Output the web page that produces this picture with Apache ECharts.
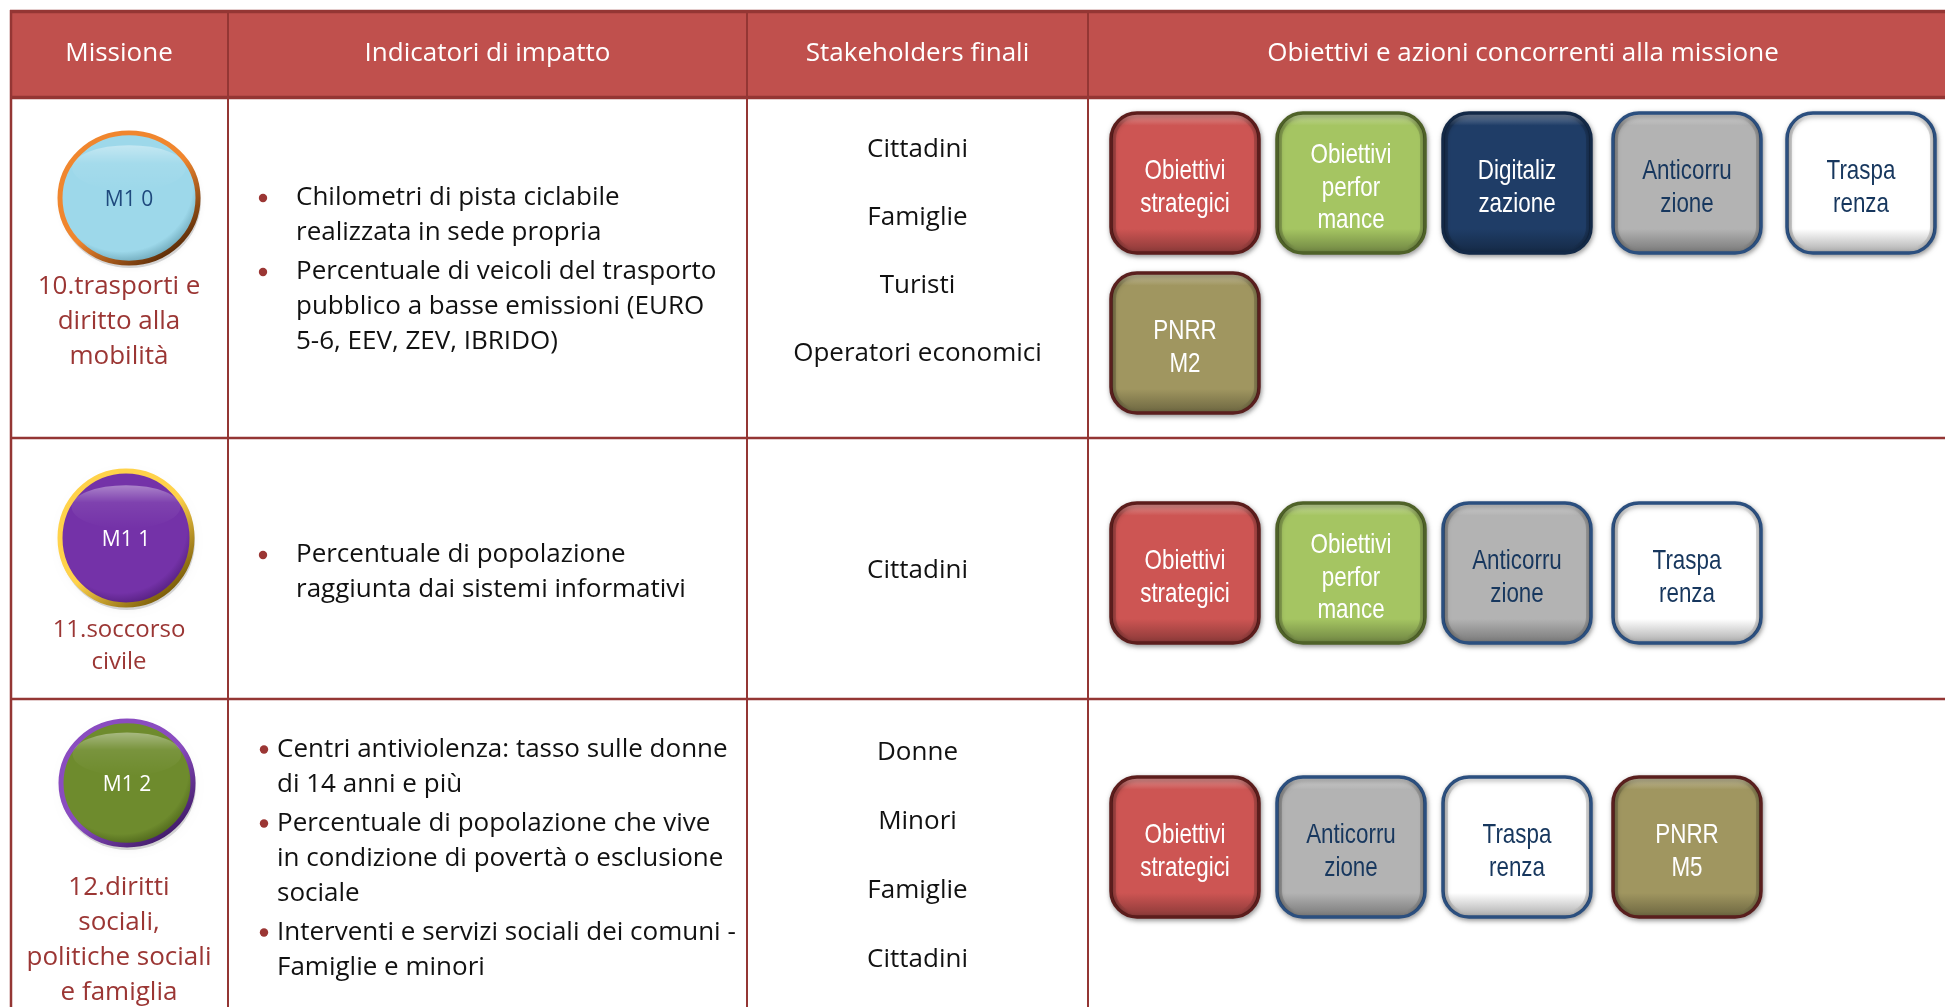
<!DOCTYPE html>
<html><head><meta charset="utf-8">
<script src="https://cdn.jsdelivr.net/npm/echarts@6/dist/echarts.min.js"></script>
<style>html,body{margin:0;padding:0;background:#fff}#c{width:1945px;height:1007px}</style>
</head><body><div id="c"></div>
<script>
// ---------------- content ----------------
const headers = ['Missione', 'Indicatori di impatto', 'Stakeholders finali', 'Obiettivi e azioni concorrenti alla missione'];
const missionCodes = ['M1 0', 'M1 1', 'M1 2'];
const missionNames = [
  ['10.trasporti e', 'diritto alla', 'mobilità'],
  ['11.soccorso', 'civile'],
  ['12.diritti', 'sociali,', 'politiche sociali', 'e famiglia']
];
const indicators = [
  [['Chilometri di pista ciclabile', 'realizzata in sede propria'],
   ['Percentuale di veicoli del trasporto', 'pubblico a basse emissioni (EURO', '5-6, EEV, ZEV, IBRIDO)']],
  [['Percentuale di popolazione', 'raggiunta dai sistemi informativi']],
  [['Centri antiviolenza: tasso sulle donne', 'di 14 anni e più'],
   ['Percentuale di popolazione che vive', 'in condizione di povertà o esclusione', 'sociale'],
   ['Interventi e servizi sociali dei comuni -', 'Famiglie e minori']]
];
const stakeholders = [
  ['Cittadini', 'Famiglie', 'Turisti', 'Operatori economici'],
  ['Cittadini'],
  ['Donne', 'Minori', 'Famiglie', 'Cittadini']
];
const actions = [
  ['Obiettivi\nstrategici', 'Obiettivi\nperfor\nmance', 'Digitaliz\nzazione', 'Anticorru\nzione', 'Traspa\nrenza', 'PNRR\nM2'],
  ['Obiettivi\nstrategici', 'Obiettivi\nperfor\nmance', 'Anticorru\nzione', 'Traspa\nrenza'],
  ['Obiettivi\nstrategici', 'Anticorru\nzione', 'Traspa\nrenza', 'PNRR\nM5']
];

// ---------------- layout & styles ----------------
const FONT = '"Open Sans", "Noto Sans", sans-serif';
const BOXFONT = '"Liberation Sans", Arial, sans-serif';
const LINE = '#943634';
const HEAD_BG = '#C0504D';
const NAME_COLOR = '#9B3634';
const layout = {
  colEdges: [10, 228, 747, 1088, 1958],
  rowEdges: [10, 98, 438, 699, 1018],
  circle: [{cx: 129, cyOff: 100, rx: 71, ry: 67}, {cx: 126, cyOff: 100, rx: 68, ry: 69}, {cx: 127, cyOff: 84, rx: 68, ry: 64}],
  nameTop: [189, 192, 189], nameLH: [35, 32, 35], nameSize: [26, 24, 26],
  bulletX: [263, 263, 264], textX: [296, 296, 277], indLH: 35, indGap: 4, indOff: [2, 4, 0],
  stakeLH: [68, 68, 69], stakeOff: [-16, 2, -2],
  boxTop: [113, 503, 777], boxSlotX: [1111, 1277, 1443, 1613, 1787], boxW: 148, boxH: 140, boxRowPitch: 160, perLine: 5
};
const circleStyles = [
  {fill: '#9DD8EA', dark: '#5E97A8', ring1: '#F0862E', ring2: '#4A2203', text: '#1F497D'},
  {fill: '#7432A8', dark: '#4B1A72', ring1: '#FFD24A', ring2: '#6A4E00', text: '#FFFFFF'},
  {fill: '#6E8B2D', dark: '#445A16', ring1: '#8A4CC0', ring2: '#3A1660', text: '#FFFFFF'}
];
const boxStyles = {
  strat: {fill: '#CD5553', stroke: '#5C1D1C', text: '#FFFFFF'},
  perf: {fill: '#A5C562', stroke: '#4F6228', text: '#FFFFFF'},
  dig: {fill: '#1F3D67', stroke: '#132947', text: '#FFFFFF'},
  anti: {fill: '#B3B3B3', stroke: '#2B4F7F', text: '#17375E'},
  trasp: {fill: '#FFFFFF', stroke: '#2B4F7F', text: '#17375E'},
  pnrr: {fill: '#A09660', stroke: '#5A1F1E', text: '#FFFFFF'}
};
function boxKind(label) {
  if (label.indexOf('strategici') >= 0) return 'strat';
  if (label.indexOf('perfor') >= 0) return 'perf';
  if (label.indexOf('Digit') === 0) return 'dig';
  if (label.indexOf('Anti') === 0) return 'anti';
  if (label.indexOf('Trasp') === 0) return 'trasp';
  return 'pnrr';
}
function mix(hex, target, t) {
  const a = parseInt(hex.slice(1), 16), b = parseInt(target.slice(1), 16);
  const r = Math.round(((a >> 16) & 255) * (1 - t) + ((b >> 16) & 255) * t);
  const g = Math.round(((a >> 8) & 255) * (1 - t) + ((b >> 8) & 255) * t);
  const bl = Math.round((a & 255) * (1 - t) + (b & 255) * t);
  return 'rgb(' + r + ',' + g + ',' + bl + ')';
}

// ---------------- helpers using axis scales ----------------
function X(api, v) { return api.coord([v, 0])[0]; }
function Y(api, v) { return api.coord([0, v])[1]; }
function W(api, v) { return api.size([v, 0])[0]; }
function H(api, v) { return api.size([0, v])[1]; }
function txt(api, x, y, text, size, color, family, align, extra) {
  const el = {type: 'text', x: X(api, x), y: Y(api, y), style: {text: text, x: 0, y: 0, fill: color,
    fontSize: size, fontFamily: family, align: align || 'center', verticalAlign: 'middle'}};
  if (extra) Object.assign(el, extra);
  return el;
}

function renderHeader(params, api) {
  const i = params.dataIndex, e = layout.colEdges, r = layout.rowEdges;
  const x0 = X(api, e[i]), x1 = X(api, e[i + 1]), y0 = Y(api, r[0]), y1 = Y(api, r[1]);
  return {type: 'group', children: [
    {type: 'rect', shape: {x: x0, y: y0, width: x1 - x0, height: y1 - y0}, style: {fill: HEAD_BG}},
    txt(api, (e[i] + e[i + 1]) / 2, (r[0] + r[1]) / 2, headers[i], 26, '#FFFFFF', FONT)
  ]};
}
const lineItems = [];
layout.colEdges.forEach((v, i) => { if (i < layout.colEdges.length - 1) lineItems.push(['v', i]); });
layout.rowEdges.forEach((v, i) => { if (i < layout.rowEdges.length - 1) lineItems.push(['h', i]); });
function renderLine(params, api) {
  const it = lineItems[params.dataIndex], e = layout.colEdges, r = layout.rowEdges;
  if (it[0] === 'v') {
    const xv = X(api, e[it[1]]) + (it[1] === 0 ? 1 : 0);
    return {type: 'line', shape: {x1: xv, y1: Y(api, r[0]), x2: xv, y2: Y(api, r[r.length - 1])},
      style: {stroke: LINE, lineWidth: it[1] === 0 ? 2.5 : 2}};
  }
  const k = it[1];
  const yv = Y(api, r[k]) + (k === 0 ? 1.5 : (k === 1 ? -0.5 : 0));
  return {type: 'line', shape: {x1: X(api, e[0]), y1: yv, x2: X(api, e[e.length - 1]), y2: yv},
    style: {stroke: LINE, lineWidth: (k <= 1) ? 3.5 : 2.5}};
}
function renderMission(params, api) {
  const i = params.dataIndex, top = layout.rowEdges[i + 1], c = layout.circle[i], s = circleStyles[i];
  const cx = X(api, c.cx), cy = Y(api, top + c.cyOff), rx = W(api, c.rx), ry = H(api, c.ry);
  const children = [
    {type: 'circle', x: cx + 1, y: cy + 3, scaleY: ry / rx, shape: {cx: 0, cy: 0, r: rx},
      style: {fill: 'rgba(0,0,0,0.15)', shadowBlur: 6, shadowColor: 'rgba(0,0,0,0.3)'}},
    {type: 'circle', x: cx, y: cy, scaleY: ry / rx, shape: {cx: 0, cy: 0, r: rx - 2},
      style: {
        fill: {type: 'radial', x: 0.45, y: 0.4, r: 0.62, colorStops: [
          {offset: 0, color: s.fill}, {offset: 0.8, color: s.fill}, {offset: 1, color: s.dark}]},
        stroke: {type: 'linear', x: 0.15, y: 0.1, x2: 0.85, y2: 0.95, colorStops: [
          {offset: 0, color: s.ring1}, {offset: 0.5, color: s.ring1}, {offset: 1, color: s.ring2}]},
        lineWidth: 5}},
    {type: 'circle', x: cx, y: cy - ry * 0.45, scaleY: 0.4, shape: {cx: 0, cy: 0, r: rx * 0.8},
      style: {fill: {type: 'linear', x: 0, y: 0, x2: 0, y2: 1, colorStops: [
        {offset: 0, color: 'rgba(255,255,255,0.4)'}, {offset: 0.4, color: 'rgba(255,255,255,0.08)'}, {offset: 1, color: 'rgba(255,255,255,0)'}]}}},
    txt(api, c.cx, top + c.cyOff + 2, missionCodes[i], 21, s.text, FONT)
  ];
  missionNames[i].forEach((ln, k) => {
    children.push(txt(api, 119, top + layout.nameTop[i] + k * layout.nameLH[i], ln, layout.nameSize[i], NAME_COLOR, FONT));
  });
  return {type: 'group', children: children};
}
function renderIndicators(params, api) {
  const i = params.dataIndex, top = layout.rowEdges[i + 1], bot = layout.rowEdges[i + 2];
  const items = indicators[i], LH = layout.indLH, G = layout.indGap;
  let n = 0; items.forEach(it => n += it.length);
  const total = n * LH + (items.length - 1) * G;
  let y = (top + bot) / 2 - total / 2 + LH / 2 + layout.indOff[i];
  const children = [];
  items.forEach(it => {
    children.push({type: 'circle', shape: {cx: X(api, layout.bulletX[i]), cy: Y(api, y), r: 4.2}, style: {fill: '#9B3634'}});
    it.forEach(ln => {
      children.push(txt(api, layout.textX[i], y, ln, 26, '#111111', FONT, 'left'));
      y += LH;
    });
    y += G;
  });
  return {type: 'group', children: children};
}
function renderStake(params, api) {
  const i = params.dataIndex, top = layout.rowEdges[i + 1], bot = layout.rowEdges[i + 2];
  const list = stakeholders[i], LH = layout.stakeLH[i];
  const y0 = (top + bot) / 2 - (list.length - 1) * LH / 2 + layout.stakeOff[i];
  const xc = (layout.colEdges[2] + layout.colEdges[3]) / 2;
  return {type: 'group', children: list.map((s, k) => txt(api, xc, y0 + k * LH, s, 26, '#111111', FONT))};
}
const boxItems = [];
actions.forEach((row, r) => row.forEach((lab, k) => boxItems.push([r, k])));
function renderBox(params, api) {
  const it = boxItems[params.dataIndex], r = it[0], k = it[1];
  const label = actions[r][k], st = boxStyles[boxKind(label)];
  const col = k % layout.perLine, line = Math.floor(k / layout.perLine);
  const bx = layout.boxSlotX[col], by = layout.boxTop[r] + line * layout.boxRowPitch;
  const x = X(api, bx), y = Y(api, by), w = W(api, layout.boxW), h = H(api, layout.boxH);
  const lines = label.split('\n');
  const children = [
    {type: 'rect', shape: {x: x, y: y, width: w, height: h, r: 26},
      style: {
        fill: {type: 'linear', x: 0, y: 0, x2: 0, y2: 1, colorStops: [
          {offset: 0, color: mix(st.fill, '#FFFFFF', 0.45)}, {offset: 0.1, color: st.fill},
          {offset: 0.82, color: st.fill}, {offset: 1, color: mix(st.fill, '#000000', 0.35)}]},
        stroke: st.stroke, lineWidth: 3.5,
        shadowBlur: 5, shadowOffsetX: 1, shadowOffsetY: 2, shadowColor: 'rgba(0,0,0,0.35)'}},
    {type: 'rect', shape: {x: x + 3, y: y + 3, width: w - 6, height: h - 6, r: 23},
      style: {fill: 'none', stroke: {type: 'linear', x: 0, y: 0, x2: 1, y2: 0, colorStops: [
        {offset: 0, color: 'rgba(0,0,0,0.22)'}, {offset: 0.12, color: 'rgba(0,0,0,0)'},
        {offset: 0.88, color: 'rgba(0,0,0,0)'}, {offset: 1, color: 'rgba(0,0,0,0.22)'}]}, lineWidth: 4}}
  ];
  const LH = 32.5, cy = by + layout.boxH / 2 + 5 - (lines.length - 1) * LH / 2;
  lines.forEach((ln, j) => {
    children.push(txt(api, bx + layout.boxW / 2, cy + j * LH, ln, 28, st.text, BOXFONT, 'center', {scaleX: 0.8}));
  });
  return {type: 'group', children: children};
}

const chart = echarts.init(document.getElementById('c'));
chart.setOption({
  animation: false,
  backgroundColor: '#FFFFFF',
  grid: {left: 0, right: 0, top: 0, bottom: 0},
  xAxis: {type: 'value', min: 0, max: 1945, show: false},
  yAxis: {type: 'value', min: 0, max: 1007, inverse: true, show: false},
  series: [
    {type: 'custom', name: 'header', renderItem: renderHeader, data: headers.map((h, i) => [i, 0]), z: 1, silent: true},
    {type: 'custom', name: 'lines', renderItem: renderLine, data: lineItems.map((l, i) => [i, 0]), z: 2, silent: true},
    {type: 'custom', name: 'missions', renderItem: renderMission, data: missionCodes.map((m, i) => [0, i + 1]), z: 3, silent: true},
    {type: 'custom', name: 'indicators', renderItem: renderIndicators, data: indicators.map((d, i) => [1, i + 1]), z: 3, silent: true},
    {type: 'custom', name: 'stakeholders', renderItem: renderStake, data: stakeholders.map((d, i) => [2, i + 1]), z: 3, silent: true},
    {type: 'custom', name: 'actions', renderItem: renderBox, data: boxItems.map((b, i) => [3, b[0] + 1]), z: 3, silent: true}
  ]
});
</script></body></html>
